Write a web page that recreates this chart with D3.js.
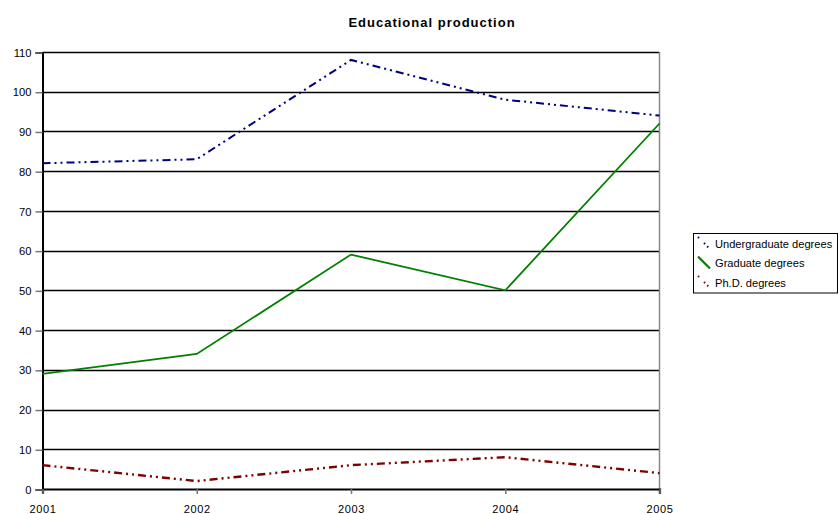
<!DOCTYPE html>
<html>
<head>
<meta charset="utf-8">
<script src="https://cdn.jsdelivr.net/npm/d3@7"></script>
<style>
  html, body { margin: 0; padding: 0; background: #fff; }
  svg { display: block; font-family: "Liberation Sans", Arial, sans-serif; }
</style>
</head>
<body>
<svg id="chart" width="838" height="514"></svg>
<script>
// Degrees awarded per year
const years = [2001, 2002, 2003, 2004, 2005];
const undergraduate = [82, 83, 108, 98, 94];
const graduate = [29, 34, 59, 50, 92];
const phd = [6, 2, 6, 8, 4];
const yTicks = [0, 10, 20, 30, 40, 50, 60, 70, 80, 90, 100, 110];
const seriesNames = ["Undergraduate degrees", "Graduate degrees", "Ph.D. degrees"];

const series = [
  { name: seriesNames[0], values: undergraduate, color: "#000080", dash: "8,4,2,4,2,4", width: 2 },
  { name: seriesNames[1], values: graduate, color: "#008000", dash: null, width: 1.8 },
  { name: seriesNames[2], values: phd, color: "#800000", dash: "8,4,2,4,2,4", width: 2.4 }
];

const svg = d3.select("#chart");
const plotLeft = 42.5, plotRight = 659.5, plotTop = 52, plotBottom = 489;
const font = "Liberation Sans, Arial, sans-serif";

const x = d3.scaleLinear().domain([2001, 2005]).range([plotLeft, plotRight]);
const y = d3.scaleLinear().domain([0, 110]).range([plotBottom, plotTop]);

// Title
svg.append("text")
  .attr("x", 432).attr("y", 27)
  .attr("text-anchor", "middle")
  .attr("font-size", 13).attr("font-weight", "bold")
  .attr("letter-spacing", 1)
  .text("Educational production");

// Horizontal gridlines
svg.append("g").selectAll("line")
  .data(yTicks.filter(d => d > 0))
  .join("line")
  .attr("x1", plotLeft).attr("x2", plotRight)
  .attr("y1", d => Math.round(y(d)) + 0.5).attr("y2", d => Math.round(y(d)) + 0.5)
  .attr("stroke", "#000").attr("stroke-width", 1.4);

// Right plot border
svg.append("line")
  .attr("x1", plotRight).attr("x2", plotRight).attr("y1", plotTop).attr("y2", plotBottom + 5)
  .attr("stroke", "#888").attr("stroke-width", 1.5);

// Y axis
const yAxis = d3.axisLeft(y).tickValues(yTicks).tickSize(7).tickPadding(4);
const gy = svg.append("g").attr("transform", `translate(${plotLeft},0.5)`).call(yAxis);
gy.select(".domain").attr("stroke", "#000").attr("stroke-width", 2);
gy.selectAll(".tick line").attr("stroke", "#777").attr("stroke-width", 1.5);
gy.selectAll(".tick text").attr("font-size", 11.2).attr("fill", "#000")
  .attr("font-family", font);

// X axis
const xAxis = d3.axisBottom(x).tickValues(years).tickFormat(d3.format("d")).tickSize(5).tickPadding(11);
const gx = svg.append("g").attr("transform", `translate(0,${plotBottom})`).call(xAxis);
gx.select(".domain").attr("stroke", "#000").attr("stroke-width", 2.2);
gx.selectAll(".tick line").attr("stroke", "#777").attr("stroke-width", 1.5);
gx.selectAll(".tick text").attr("font-size", 11).attr("fill", "#000")
  .attr("letter-spacing", 0.6)
  .attr("font-family", font);

// Series lines
const line = d3.line().x((d, i) => x(years[i])).y(d => y(d));
svg.append("g").selectAll("path")
  .data(series)
  .join("path")
  .attr("d", d => line(d.values))
  .attr("fill", "none")
  .attr("stroke", d => d.color)
  .attr("stroke-width", d => d.width)
  .attr("stroke-dasharray", d => d.dash);

// Legend
const lg = svg.append("g");
lg.append("rect")
  .attr("x", 693.5).attr("y", 233.5).attr("width", 144).attr("height", 59.5)
  .attr("fill", "#fff").attr("stroke", "#000").attr("stroke-width", 1);
const rows = lg.selectAll("g.row").data(series).join("g")
  .attr("class", "row")
  .attr("transform", (d, i) => `translate(0,${243 + i * 19.5})`);
rows.append("line")
  .attr("x1", 698).attr("y1", -6).attr("x2", 710).attr("y2", 6)
  .attr("stroke", d => d.color)
  .attr("stroke-width", d => d.dash ? 2 : 2.2)
  .attr("stroke-dasharray", d => d.dash ? "1.5,7,1.5,3,1.5,20" : null);
rows.append("text")
  .attr("x", 715).attr("y", 4.5)
  .attr("font-size", 11.1).attr("fill", "#000")
  .text(d => d.name);
</script>
</body>
</html>
